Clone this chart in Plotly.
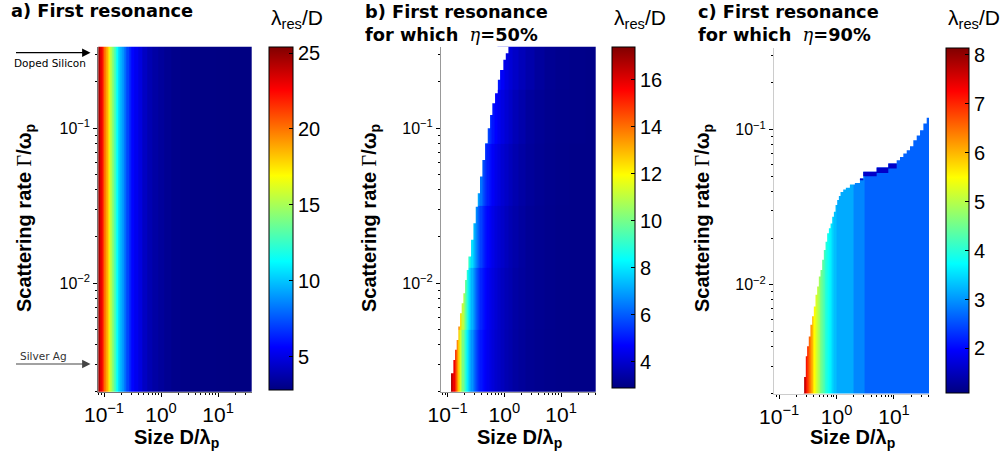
import numpy as np
import plotly.graph_objects as go
from plotly.colors import sample_colorscale

W, H = 1006, 461

# ---------------- data ----------------
# a) first resonance: lambda_res/D versus size D/lambda_p (same for every scattering rate)
a_size = [0.079, 0.085, 0.090, 0.095, 0.100, 0.106, 0.113, 0.120, 0.127, 0.135,
          0.144, 0.155, 0.169, 0.185, 0.200, 0.215, 0.235, 0.260, 0.286, 0.320,
          0.370, 0.430, 0.520, 0.630, 0.780, 1.0, 1.3, 1.8, 2.6, 4.0,
          7.0, 12.0, 20.0, 32.0]
a_lam = [25.0, 24.0, 23.0, 22.0, 21.0, 19.8, 18.6, 17.4, 16.4, 15.2,
         14.0, 12.7, 11.3, 10.2, 9.5, 8.9, 8.0, 7.1, 6.3, 5.7,
         5.3, 4.9, 4.3, 3.9, 3.6, 3.4, 3.2, 3.05, 2.95, 2.9,
         2.88, 2.86, 2.85, 2.85]

# b) first resonance with eta = 50 %: values in bands of scattering rate
b_size = [0.1175, 0.1288, 0.1413, 0.1549, 0.1698, 0.1862, 0.2042, 0.2239, 0.2455, 0.2692,
          0.2951, 0.3236, 0.3548, 0.3890, 0.4266, 0.4677, 0.5129, 0.5623, 0.631, 0.708,
          0.794, 0.912, 1.072, 1.259, 1.585, 1.995, 2.818, 3.981, 6.31, 10.0,
          19.95, 35.48]
b_rate_bands = [0.0019, 0.00501, 0.01259, 0.03162, 0.07943, 0.1778, 0.34]
N = None
b_lam = [
    [16.8, 15.8, 14.3, 12.8, 11.3, 10.0, 9.0, 8.1, 7.4, 6.8,
     6.2, 5.7, 5.3, 5.0, 4.8, 4.6, 4.45, 4.3, 4.15, 4.0,
     3.9, 3.75, 3.6, 3.5, 3.35, 3.25, 3.15, 3.1, 3.05, 3.02, 3.0, 3.0],
    [N, N, N, 13.9, 12.4, 11.0, 9.8, 8.8, 7.9, 7.25,
     6.65, 6.05, 5.6, 5.2, 4.95, 4.75, 4.55, 4.4, 4.25, 4.1,
     3.95, 3.8, 3.65, 3.55, 3.4, 3.3, 3.2, 3.12, 3.07, 3.03, 3.0, 3.0],
    [N, N, N, N, N, N, N, 9.75, 8.8, 7.9,
     7.25, 6.65, 6.1, 5.6, 5.25, 4.95, 4.75, 4.57, 4.38, 4.2,
     4.06, 3.92, 3.75, 3.6, 3.46, 3.32, 3.2, 3.12, 3.07, 3.03, 3.0, 3.0],
    [N, N, N, N, N, N, N, N, N, N,
     N, 7.6, 7.0, 6.35, 5.8, 5.4, 5.1, 4.85, 4.6, 4.4,
     4.25, 4.05, 3.9, 3.73, 3.55, 3.4, 3.25, 3.15, 3.08, 3.04, 3.0, 3.0],
    [N, N, N, N, N, N, N, N, N, N,
     N, N, N, N, N, 6.2, 5.7, 5.3, 4.95, 4.7,
     4.48, 4.27, 4.06, 3.9, 3.67, 3.5, 3.3, 3.18, 3.1, 3.05, 3.02, 3.0],
    [N, N, N, N, N, N, N, N, N, N,
     N, N, N, N, N, N, N, N, N, N,
     5.0, 4.6, 4.3, 4.1, 3.9, 3.7, 3.5, 3.3, 3.15, 3.08, 3.03, 3.0],
]
# edge of the region where eta = 50 % is reached: column starts and highest rate
b_edge_size = [0.1148, 0.1262, 0.1352, 0.1445, 0.1545, 0.1656, 0.1770, 0.1892, 0.2028, 0.2173,
               0.2323, 0.2588, 0.2844, 0.3126, 0.3396, 0.3724, 0.4093, 0.4571, 0.5093, 0.5598,
               0.6138, 0.6855, 0.7638, 0.8395, 0.9594, 1.059, 1.178]
b_edge_rate = [0.002624, 0.003199, 0.003715, 0.004305, 0.005248, 0.006397, 0.007430, 0.008610,
               0.01050, 0.01219, 0.01486, 0.01905, 0.02438, 0.03119, 0.03811, 0.04875, 0.06237,
               0.07998, 0.1000, 0.1219, 0.1449, 0.1683, 0.2051, 0.2377, 0.2761, 0.3048]

# c) first resonance with eta = 90 %
c_size = [0.2754, 0.2951, 0.3162, 0.3388, 0.3631, 0.3890, 0.4169, 0.4467, 0.4786, 0.5129,
          0.5495, 0.5888, 0.6310, 0.6761, 0.7244, 0.7762, 0.8414, 0.9226, 1.1, 1.4,
          1.75, 2.2, 2.8, 3.5, 6.0, 12.0, 25.0, 45.0]
c_lam = [7.7, 7.35, 6.95, 6.55, 6.15, 5.8, 5.5, 5.2, 4.95, 4.7,
         4.5, 4.3, 4.1, 3.95, 3.8, 3.65, 3.45, 3.3, 3.15, 3.15,
         3.15, 2.9, 2.9, 2.65, 2.65, 2.65, 2.65, 2.65]
c_edge_size = [0.2723, 0.2911, 0.3069, 0.3281, 0.3508, 0.3758, 0.4018, 0.4295, 0.4592, 0.4909,
               0.5248, 0.5610, 0.5998, 0.6427, 0.6855, 0.7345, 0.7852, 0.8395, 0.8974, 0.9594,
               1.026, 1.096, 1.172, 1.306, 1.452, 1.706, 2.084, 2.553, 2.917, 4.989,
               7.962, 11.14, 12.74, 14.55, 16.67, 19.01, 21.73, 24.89, 28.44, 32.51,
               37.15, 45.0]
c_edge_rate = [0.002553, 0.003467, 0.004018, 0.004656, 0.005534, 0.006266, 0.007261, 0.008630,
               0.009750, 0.01130, 0.01247, 0.01449, 0.01679, 0.01897, 0.02148, 0.02312, 0.02489,
               0.02748, 0.02958, 0.03266, 0.03516, 0.03733, 0.03972, 0.04121, 0.04217, 0.04436,
               0.04539, 0.04842, 0.05346, 0.05702, 0.06053, 0.06353, 0.06668, 0.07015, 0.07362,
               0.07816, 0.08531, 0.09183, 0.09908, 0.1094, 0.1194]
# thin band of a lower value along the upper edge
c_band_size = [2.553, 2.917, 4.989, 7.962, 11.14]
c_band_lo = [0.0472, 0.0501, 0.0526, 0.0561]
c_band_hi = [0.04842, 0.05346, 0.05702, 0.06053]
c_band_lam = 1.6

cbar_a = [2.8, 25.4]
cbar_b = [2.88, 17.4]
cbar_c = [1.09, 8.14]
cbar_a_ticks = [5, 10, 15, 20, 25]
cbar_b_ticks = [4, 6, 8, 10, 12, 14, 16]
cbar_c_ticks = [2, 3, 4, 5, 6, 7, 8]

x_tickvals = [0.1, 1, 10]
x_ticktext = ["10<sup>\u22121</sup>", "10<sup>0</sup>", "10<sup>1</sup>"]
y_tickvals = [0.01, 0.1]
y_ticktext = ["10<sup>\u22122</sup>", "10<sup>\u22121</sup>"]

Y_FLOOR, Y_CEIL = 0.0019, 0.34

assert len(a_size) == len(a_lam)
assert all(len(r) == len(b_size) for r in b_lam) and len(b_lam) == len(b_rate_bands) - 1
assert len(b_edge_size) == len(b_edge_rate) + 1
assert len(c_size) == len(c_lam)
assert len(c_edge_size) == len(c_edge_rate) + 1
assert len(c_band_size) == len(c_band_lo) + 1 == len(c_band_hi) + 1


def x_edges(centers):
    c = np.asarray(centers, float)
    mids = np.sqrt(c[:-1] * c[1:])
    return np.concatenate([[c[0] ** 2 / mids[0]], mids, [c[-1] ** 2 / mids[-1]]])


def to_z(rows):
    return np.array([[np.nan if v is None else v for v in r] for r in rows], float)


def stair_mask(sizes, rates, x_left=0.05, y_floor=0.0015, y_ceil=0.6):
    xs, ys = [x_left, sizes[0]], [y_floor, y_floor]
    for i, r in enumerate(rates):
        xs += [sizes[i], sizes[i + 1]]
        ys += [r, r]
    xs += [sizes[-1], x_left]
    ys += [y_ceil, y_ceil]
    return xs, ys


def band_poly(sizes, lo, hi):
    xs, ys = [], []
    for i, r in enumerate(hi):
        xs += [sizes[i], sizes[i + 1]]
        ys += [r, r]
    for i in range(len(lo) - 1, -1, -1):
        xs += [sizes[i + 1], sizes[i]]
        ys += [lo[i], lo[i]]
    return xs, ys


jet = [[0.0, "rgb(0,0,128)"], [0.125, "rgb(0,0,255)"], [0.375, "rgb(0,255,255)"],
       [0.625, "rgb(255,255,0)"], [0.875, "rgb(255,0,0)"], [1.0, "rgb(128,0,0)"]]

# pixel geometry of the three panels
panels = [
    dict(x0=98.3, x1=251.7, y0=46.7, y1=391.7, xr=[-1.10, 1.59], cb=(269, 292.7, 46.7, 390),
         line="#777777"),
    dict(x0=441, x1=595.7, y0=46.7, y1=391.7, xr=[-1.117, 1.61], cb=(612, 635, 46.7, 388),
         line="#999999"),
    dict(x0=774, x1=929, y0=48, y1=393.5, xr=[-1.09, 1.61], cb=(945.7, 969, 48, 393),
         line="#cccccc"),
]

fx = lambda px: px / W
fy = lambda py: 1 - py / H

heat = [
    (a_size, [Y_FLOOR, Y_CEIL], to_z([a_lam]), cbar_a, cbar_a_ticks),
    (b_size, b_rate_bands, to_z(b_lam), cbar_b, cbar_b_ticks),
    (c_size, [Y_FLOOR, Y_CEIL], to_z([c_lam]), cbar_c, cbar_c_ticks),
]

minor_vals = [k * 10.0 ** e for e in range(-3, 2) for k in range(2, 10)]
FONT = "Liberation Sans"

fig = go.Figure()
for k, (size, yed, z, crange, cticks) in enumerate(heat):
    p = panels[k]
    sfx = "" if k == 0 else str(k + 1)
    cx0, cx1, cy0, cy1 = p["cb"]
    fig.add_trace(go.Heatmap(
        x=x_edges(size), y=yed, z=z,
        xaxis="x" + sfx, yaxis="y" + sfx,
        colorscale=jet, zmin=crange[0], zmax=crange[1], zsmooth=False,
        hoverinfo="skip",
        colorbar=dict(
            x=fx(cx0), xanchor="left", xpad=0, ypad=0,
            y=fy(cy1), yanchor="bottom", len=(cy1 - cy0) / H, lenmode="fraction",
            thickness=cx1 - cx0, thicknessmode="pixels",
            outlinewidth=1, outlinecolor="black",
            ticks="inside", ticklen=4, tickcolor="black", tickwidth=1,
            tickvals=cticks, tickfont=dict(family=FONT, size=20, color="black"),
        ),
    ))
    xa = dict(
        domain=[fx(p["x0"]), fx(p["x1"])], anchor="y" + sfx, type="log", range=p["xr"],
        tickmode="array", tickvals=x_tickvals, ticktext=x_ticktext,
        ticks="outside", ticklen=4, tickcolor="black", tickwidth=1,
        minor=dict(tickmode="array", tickvals=minor_vals, ticks="outside", ticklen=2,
                   tickcolor="black", showgrid=False),
        showline=True, linecolor=p["line"], linewidth=1,
        showgrid=False, zeroline=False, automargin=False,
        tickfont=dict(family=FONT, size=21, color="black"),
    )
    ya = dict(
        domain=[fy(p["y1"]), fy(p["y0"])], anchor="x" + sfx, type="log", range=[-2.70, -0.474],
        tickmode="array", tickvals=y_tickvals, ticktext=y_ticktext,
        ticks="outside", ticklen=4, tickcolor="black", tickwidth=1,
        minor=dict(tickmode="array", tickvals=minor_vals, ticks="outside", ticklen=2,
                   tickcolor="black", showgrid=False),
        showline=True, linecolor=p["line"], linewidth=1,
        showgrid=False, zeroline=False, automargin=False,
        tickfont=dict(family=FONT, size=16, color="black"),
    )
    fig.update_layout(**{"xaxis" + sfx: xa, "yaxis" + sfx: ya})

# blank out the parts of b) and c) where the efficiency is never reached
for sfx, (es, er) in (("2", (b_edge_size, b_edge_rate)), ("3", (c_edge_size, c_edge_rate))):
    mx, my = stair_mask(es, er)
    fig.add_trace(go.Scatter(x=mx, y=my, xaxis="x" + sfx, yaxis="y" + sfx, mode="lines",
                             fill="toself", fillcolor="white", line=dict(width=0),
                             hoverinfo="skip", showlegend=False))

band_color = sample_colorscale(jet, [(c_band_lam - cbar_c[0]) / (cbar_c[1] - cbar_c[0])])[0]
bx, by = band_poly(c_band_size, c_band_lo, c_band_hi)
fig.add_trace(go.Scatter(x=bx, y=by, xaxis="x3", yaxis="y3", mode="lines", fill="toself",
                         fillcolor=band_color, line=dict(width=0), hoverinfo="skip",
                         showlegend=False))

ann = []
TFONT = "DejaVu Sans"
eta = "<span style='font-family:DejaVu Serif;font-style:italic;font-weight:normal'>\u03b7</span>"
titles = [
    (8.5, 10.5, "<b>a) First resonance</b>"),
    (363, 22.5, "<b>b) First resonance</b><br><b>for which</b>\u00a0\u00a0" + eta + "<b>=50%</b>"),
    (696, 22.5, "<b>c) First resonance</b><br><b>for which</b>\u00a0\u00a0" + eta + "<b>=90%</b>"),
]
for x, y, t in titles:
    ann.append(dict(xref="paper", yref="paper", x=fx(x), y=fy(y), xanchor="left", yanchor="middle",
                    align="left", text=t, showarrow=False,
                    font=dict(family=TFONT, size=17.8, color="black")))

ylab = ("<b>Scattering rate </b><span style='font-family:Liberation Serif'>\u0393</span>"
        "<b>/\u03c9<sub>p</sub></b>")
xlab = "<b>Size D/\u03bb<sub>p</sub></b>"
for k, p in enumerate(panels):
    ycx = [25, 370, 703][k]
    ann.append(dict(xref="paper", yref="paper", x=fx(ycx), y=fy(218), xanchor="center",
                    yanchor="middle", textangle=-90, text=ylab, showarrow=False,
                    font=dict(family=FONT, size=20, color="black")))
    ann.append(dict(xref="paper", yref="paper", x=fx((p["x0"] + p["x1"]) / 2 + 1), y=fy(438),
                    xanchor="center", yanchor="middle", text=xlab, showarrow=False,
                    font=dict(family=FONT, size=20, color="black")))
    ann.append(dict(xref="paper", yref="paper", x=fx(p["cb"][0]), y=fy(19), xanchor="left",
                    yanchor="middle", text="\u03bb<sub>res</sub>/D", showarrow=False,
                    font=dict(family=FONT, size=21, color="black")))

# material markers on panel a
ann.append(dict(xref="paper", yref="paper", x=fx(90.5), y=fy(52.7), ax=-76, ay=0,
                axref="pixel", ayref="pixel", text="", showarrow=True, arrowhead=2,
                arrowsize=1.4, arrowwidth=1.2, arrowcolor="black", standoff=0))
ann.append(dict(xref="paper", yref="paper", x=fx(49.5), y=fy(62.5), xanchor="center",
                yanchor="middle", text="Doped Silicon", showarrow=False,
                font=dict(family=TFONT, size=10.5, color="black")))
ann.append(dict(xref="paper", yref="paper", x=fx(90.5), y=fy(364), ax=-76, ay=0,
                axref="pixel", ayref="pixel", text="", showarrow=True, arrowhead=2,
                arrowsize=1.4, arrowwidth=1.2, arrowcolor="#444444", standoff=0))
ann.append(dict(xref="paper", yref="paper", x=fx(43), y=fy(356), xanchor="center",
                yanchor="middle", text="Silver Ag", showarrow=False,
                font=dict(family=TFONT, size=10.5, color="#333333")))

fig.update_layout(
    width=W, height=H, margin=dict(l=0, r=0, t=0, b=0),
    paper_bgcolor="white", plot_bgcolor="white",
    showlegend=False, annotations=ann,
    font=dict(family=FONT, color="black"),
)
fig.write_html("out.html")
